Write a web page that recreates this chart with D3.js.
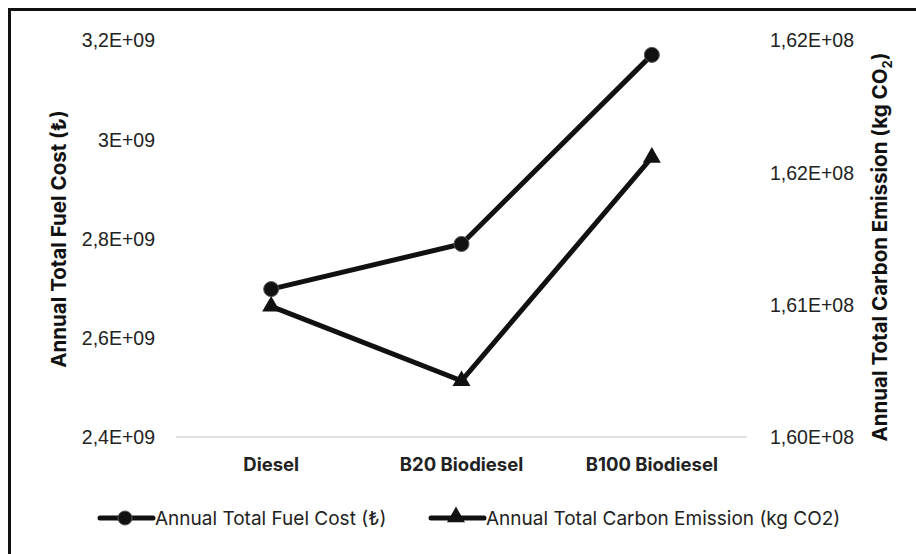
<!DOCTYPE html>
<html>
<head>
<meta charset="utf-8">
<script src="https://cdn.jsdelivr.net/npm/d3@7"></script>
<style>
  body { margin: 0; background: #fff; }
  svg { display: block; }
</style>
</head>
<body>
<div id="chart"></div>
<script>
// data
const categories = ["Diesel", "B20 Biodiesel", "B100 Biodiesel"];
const fuelCost = [2.698e9, 2.789e9, 3.170e9];
const carbonEmission = [1.6079e8, 1.6034e8, 1.6169e8];
const leftTicks = [2.4e9, 2.6e9, 2.8e9, 3.0e9, 3.2e9];
const rightTicks = [1.600e8, 1.608e8, 1.616e8, 1.624e8];

const width = 916, height = 554;
const margin = { top: 40, right: 169, bottom: 117, left: 176 };

const svg = d3.select("#chart").append("svg")
    .attr("width", width)
    .attr("height", height);

// frame
svg.append("rect")
    .attr("x", 9.5).attr("y", 9.5)
    .attr("width", width).attr("height", height)
    .attr("fill", "none")
    .attr("stroke", "#111")
    .attr("stroke-width", 3);

const x = d3.scaleBand()
    .domain(categories)
    .range([margin.left, width - margin.right]);

const yLeft = d3.scaleLinear()
    .domain([2.4e9, 3.2e9])
    .range([height - margin.bottom, margin.top]);

const yRight = d3.scaleLinear()
    .domain([1.600e8, 1.624e8])
    .range([height - margin.bottom, margin.top]);

// Excel-like "0,0E+00" labels with comma decimals
function sci(v, digits) {
    let [m, e] = v.toExponential(digits).split("e");
    if (digits === 1 && /\.0$/.test(m)) m = m.split(".")[0];
    let ex = Math.abs(+e).toString().padStart(2, "0");
    return m.replace(".", ",") + "E" + (+e < 0 ? "-" : "+") + ex;
}

const tickFont = "Liberation Sans, Arial, sans-serif";
const mainFont = "Inter, Noto Sans, sans-serif";

// baseline
svg.append("line")
    .attr("x1", margin.left).attr("x2", width - margin.right)
    .attr("y1", yLeft(2.4e9)).attr("y2", yLeft(2.4e9))
    .attr("stroke", "#d9d9d9")
    .attr("stroke-width", 1.5);

// left axis
const axL = svg.append("g")
    .attr("transform", `translate(${margin.left - 21},0)`)
    .call(d3.axisLeft(yLeft).tickValues(leftTicks).tickSize(0).tickPadding(0)
        .tickFormat(d => sci(d, 1)));
axL.select(".domain").remove();
axL.selectAll("text")
    .attr("font-family", tickFont)
    .attr("font-size", 19.5)
    .attr("fill", "#222")
    .attr("dy", "0.35em");

// right axis
const axR = svg.append("g")
    .attr("transform", `translate(${width - margin.right + 23},0)`)
    .call(d3.axisRight(yRight).tickValues(rightTicks).tickSize(0).tickPadding(0)
        .tickFormat(d => sci(d, 2)));
axR.select(".domain").remove();
axR.selectAll("text")
    .attr("font-family", tickFont)
    .attr("font-size", 19.5)
    .attr("fill", "#222")
    .attr("dy", "0.35em");

// x axis labels
const axX = svg.append("g")
    .attr("transform", `translate(0,${height - margin.bottom + 20})`)
    .call(d3.axisBottom(x).tickSize(0).tickPadding(0));
axX.select(".domain").remove();
axX.selectAll("text")
    .attr("font-family", mainFont)
    .attr("font-weight", "bold")
    .attr("font-size", 18.5)
    .attr("fill", "#222")
    .attr("dy", "0.75em");

// axis titles
svg.append("text")
    .attr("transform", `translate(66,239) rotate(-90)`)
    .attr("text-anchor", "middle")
    .attr("font-family", mainFont)
    .attr("font-weight", "bold")
    .attr("font-size", 20.5)
    .attr("fill", "#111")
    .text("Annual Total Fuel Cost (₺)");

const rt = svg.append("text")
    .attr("transform", `translate(887,247) rotate(-90)`)
    .attr("text-anchor", "middle")
    .attr("font-family", mainFont)
    .attr("font-weight", "bold")
    .attr("font-size", 20.5)
    .attr("fill", "#111");
rt.append("tspan").text("Annual Total Carbon Emission (kg CO");
rt.append("tspan").attr("font-size", 13).attr("dy", 5).text("2");
rt.append("tspan").attr("dy", -5).text(")");

const cx = d => x(d) + x.bandwidth() / 2;
const triangle = d3.symbol().type(d3.symbolTriangle).size(140);

// fuel cost line
svg.append("path")
    .datum(fuelCost)
    .attr("fill", "none")
    .attr("stroke", "#111")
    .attr("stroke-width", 5)
    .attr("d", d3.line().x((d, i) => cx(categories[i])).y(d => yLeft(d)));

svg.selectAll(".dot")
    .data(fuelCost)
    .enter().append("circle")
    .attr("class", "dot")
    .attr("cx", (d, i) => cx(categories[i]))
    .attr("cy", d => yLeft(d))
    .attr("r", 7.5)
    .attr("fill", "#111")
    .attr("stroke", "#555")
    .attr("stroke-width", 1);

// emission line
svg.append("path")
    .datum(carbonEmission)
    .attr("fill", "none")
    .attr("stroke", "#111")
    .attr("stroke-width", 5)
    .attr("d", d3.line().x((d, i) => cx(categories[i])).y(d => yRight(d)));

svg.selectAll(".tri")
    .data(carbonEmission)
    .enter().append("path")
    .attr("class", "tri")
    .attr("transform", (d, i) => `translate(${cx(categories[i])},${yRight(d)})`)
    .attr("d", triangle)
    .attr("fill", "#111");

// legend
const legend = svg.append("g").attr("transform", "translate(0,518)");
const items = [
    { label: "Annual Total Fuel Cost (₺)", x: 100, marker: "circle" },
    { label: "Annual Total Carbon Emission (kg CO2)", x: 431, marker: "triangle" }
];
items.forEach(it => {
    legend.append("line")
        .attr("x1", it.x).attr("x2", it.x + 53)
        .attr("y1", 0).attr("y2", 0)
        .attr("stroke", "#111")
        .attr("stroke-width", 5)
        .attr("stroke-linecap", "round");
    if (it.marker === "circle") {
        legend.append("circle")
            .attr("cx", it.x + 25).attr("cy", 0).attr("r", 7)
            .attr("fill", "#111").attr("stroke", "#555");
    } else {
        legend.append("path")
            .attr("transform", `translate(${it.x + 25},-1)`)
            .attr("d", triangle)
            .attr("fill", "#111");
    }
    legend.append("text")
        .attr("x", it.x + 55).attr("y", 0)
        .attr("dy", "0.35em")
        .attr("font-family", mainFont)
        .attr("font-size", 19)
        .attr("fill", "#222")
        .text(it.label);
});
</script>
</body>
</html>
